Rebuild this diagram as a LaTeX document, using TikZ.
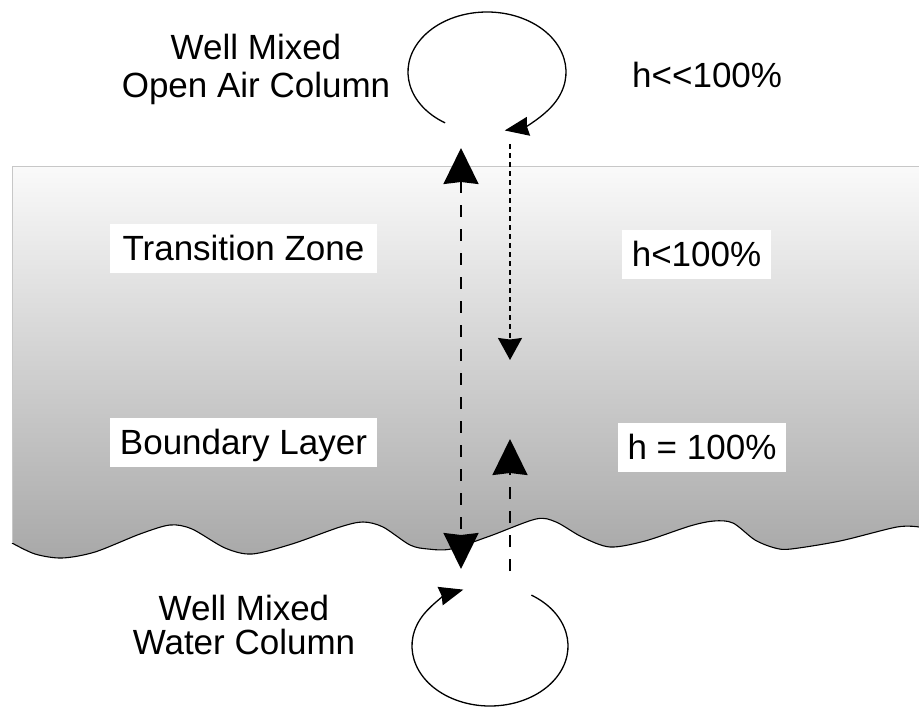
\documentclass[tikz,border=0pt]{standalone}
\usepackage{fontspec}
\setmainfont{Liberation Sans}
\usetikzlibrary{arrows.meta}
\tikzset{
  bighead/.tip={Stealth[length=36pt,width=35pt,inset=2pt]},
  smallhead/.tip={Stealth[length=22pt,width=24pt,inset=1.5pt]},
  loophead/.tip={Stealth[length=24pt,width=19pt,inset=1.5pt]},
}
\begin{document}
\begin{tikzpicture}[x=1pt,y=-1pt,
  lbl/.style={font=\fontsize{35}{38}\selectfont, inner sep=0pt},
  boxlbl/.style={lbl, fill=white, text height=24pt, text depth=0pt, minimum height=49pt},
  loopline/.style={line width=1.3pt},
  longdash/.style={line width=2pt, dash pattern=on 12pt off 12pt},
  finedash/.style={line width=1.6pt, dash pattern=on 5pt off 4pt},
  waveline/.style={line width=1.1pt},
  bandedge/.style={draw=black!22, line width=0.9pt}]
\useasboundingbox (0,0) rectangle (919,707);

% gray band
\shade[top color=black!2, bottom color=black!34]
  (12,166) -- plot[smooth, tension=0.5] coordinates {(12,543) (35,554) (62,558) (95,552) (140,534) (170,525) (192,529) (225,548) (252,554) (292,544) (340,527) (363,522) (383,527) (410,545) (428,549) (451,549) (490,536) (536,519) (556,522) (582,537) (610,547) (645,541) (690,526) (714,521) (733,523) (755,540) (775,548) (791,549) (840,541) (897,527) (919,527)} -- (919,166) -- cycle;
\draw[waveline] plot[smooth, tension=0.5] coordinates {(12,543) (35,554) (62,558) (95,552) (140,534) (170,525) (192,529) (225,548) (252,554) (292,544) (340,527) (363,522) (383,527) (410,545) (428,549) (451,549) (490,536) (536,519) (556,522) (582,537) (610,547) (645,541) (690,526) (714,521) (733,523) (755,540) (775,548) (791,549) (840,541) (897,527) (919,527)};
\draw[bandedge] (919,166) -- (12,166) -- (12,543);

% labels
\node[lbl, align=center] (air) at (256,69) {Well Mixed\\Open Air Column};
\node[lbl, anchor=base west] (hll) at (632,87) {h<{}<100\%};
\node[boxlbl, minimum width=267pt] (tz) at (243.5,248.5) {Transition Zone};
\node[boxlbl, minimum width=149pt] (hl) at (696.5,254.5) {h<100\%};
\node[boxlbl, minimum width=267pt] (bl) at (243.5,442.5) {Boundary Layer};
\node[boxlbl, minimum width=168pt] (he) at (702,447) {h = 100\%};
\node[font=\fontsize{35}{34}\selectfont, inner sep=0pt, align=center] (water) at (244,624.5) {Well Mixed\\Water Column};

% vertical arrows
\coordinate (lt) at (461,148);
\coordinate (lb) at (461,569);
\coordinate (rt1) at (510,144);
\coordinate (rb1) at (510,360);
\coordinate (rb2) at (510,571);
\coordinate (rt2) at (510,439);
\draw[longdash, bighead-bighead] (lt) -- (lb);
\draw[finedash, -smallhead] (rt1) -- (rb1);
\draw[longdash, -bighead] (rb2) -- (rt2);

% loops
\coordinate (tc) at (487,72);
\draw[loopline, -loophead] (tc) ++(122:79 and 60)
  arc[start angle=122, end angle=437, x radius=79, y radius=60];
\coordinate (bc) at (490,646);
\draw[loopline, -loophead] (bc) ++(-58:78 and 60)
  arc[start angle=-58, end angle=250, x radius=78, y radius=60];
\end{tikzpicture}
\end{document}
